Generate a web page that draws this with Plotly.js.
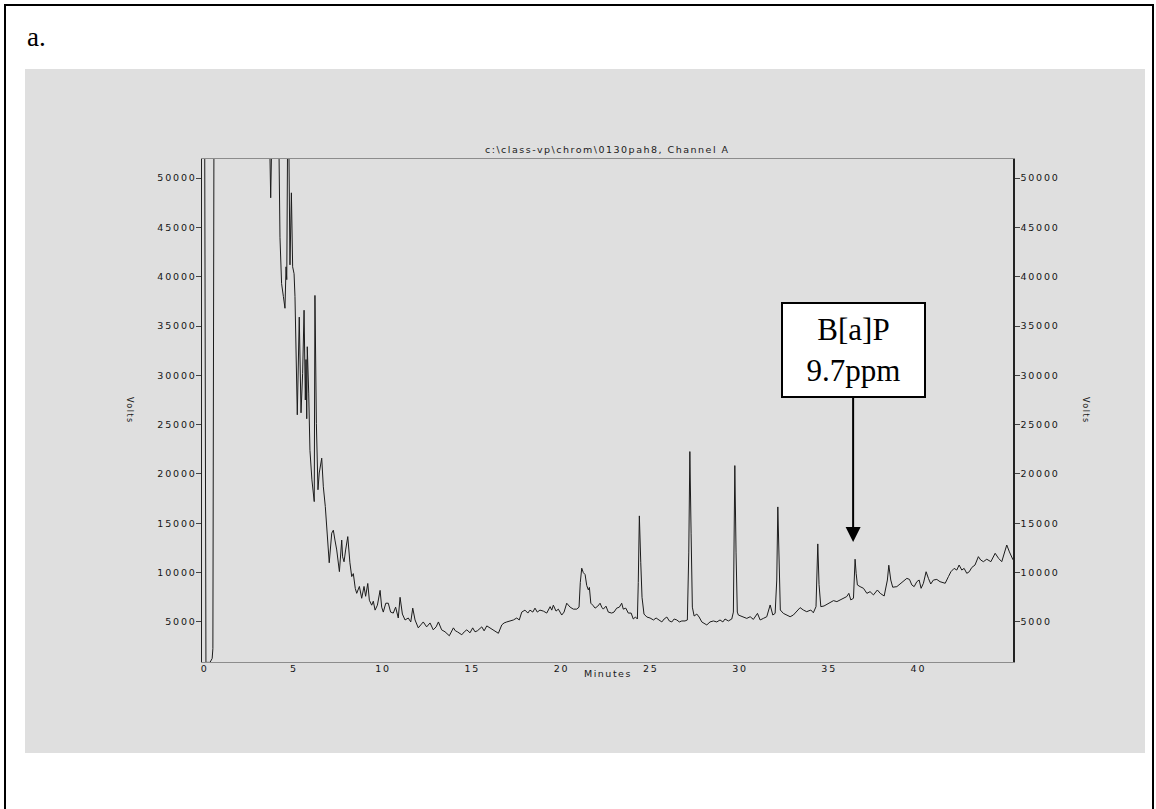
<!DOCTYPE html>
<html>
<head>
<meta charset="utf-8">
<script src="https://cdn.plot.ly/plotly-3.0.1.min.js"></script>
<style>
  html, body { margin: 0; padding: 0; background: #ffffff; width: 1156px; height: 809px; overflow: hidden; }
  #frame { position: absolute; left: 4px; top: 4px; width: 1146px; height: 820px; border: 2px solid #000; }
  #panel { position: absolute; left: 25px; top: 69px; width: 1120px; height: 684px; background: #dfdfdf; }
  #chart { position: absolute; left: 0; top: 0; width: 1156px; height: 809px; }
  /* wide, spaced instrument-style lettering for ticks and small captions */
  .xtick text, .ytick text, .y2tick text { letter-spacing: 1.8px; }
  text.annotation-text[style*="DejaVu"] { letter-spacing: 1.5px; }
</style>
</head>
<body>
<div id="frame"></div>
<div id="panel"></div>
<div id="chart"></div>
<script>
// Retention time (minutes)
const minutes = [
  0.00, 0.07, 0.30, 0.42, 0.46, 0.52,
  3.63, 3.70, 3.77, 4.15, 4.22, 4.31, 4.41, 4.50, 4.56, 4.60, 4.65, 4.71, 4.78, 4.86,
  4.93, 5.01, 5.06, 5.12, 5.19, 5.30, 5.40, 5.49, 5.57, 5.64, 5.68, 5.72, 5.75, 5.83,
  5.90, 6.01, 6.09, 6.14, 6.18, 6.26, 6.35, 6.42, 6.56, 6.65, 6.76, 6.87, 6.98, 7.12,
  7.21, 7.30, 7.40, 7.55, 7.68, 7.73, 7.81, 7.90, 8.02, 8.14, 8.24, 8.33, 8.44, 8.52,
  8.67, 8.80, 8.93, 9.02, 9.14, 9.23, 9.36, 9.45, 9.55, 9.68, 9.83, 9.92, 10.01, 10.15,
  10.29, 10.42, 10.57, 10.70, 10.85, 10.95, 11.08, 11.23, 11.41, 11.55, 11.66, 11.79,
  11.97, 12.11, 12.25, 12.44, 12.63, 12.81, 12.97, 13.10, 13.28, 13.47, 13.71, 13.94,
  14.05, 14.16, 14.41, 14.55, 14.69, 14.87, 15.02, 15.15, 15.28, 15.53, 15.66, 15.81,
  15.99, 16.22, 16.46, 16.65, 16.78, 16.93, 17.11, 17.30, 17.49, 17.63, 17.77, 17.95,
  18.11, 18.23, 18.39, 18.51, 18.64, 18.79, 18.98, 19.17, 19.36, 19.45, 19.54, 19.69,
  19.82, 20.01, 20.14, 20.29, 20.48, 20.66, 20.85, 20.98, 21.05, 21.13, 21.22, 21.32,
  21.41, 21.50, 21.56, 21.64, 21.75, 21.88, 22.03, 22.16, 22.25, 22.34, 22.49, 22.62,
  22.81, 22.94, 23.09, 23.24, 23.37, 23.46, 23.60, 23.74, 23.90, 24.02, 24.14, 24.25,
  24.30, 24.36, 24.44, 24.51, 24.62, 24.78, 24.96, 25.15, 25.30, 25.43, 25.62, 25.75,
  25.90, 26.04, 26.18, 26.31, 26.46, 26.60, 26.74, 26.92, 27.05, 27.13, 27.19, 27.26,
  27.33, 27.43, 27.58, 27.71, 27.86, 28.04, 28.14, 28.32, 28.51, 28.70, 28.88, 29.04,
  29.16, 29.35, 29.54, 29.63, 29.71, 29.78, 29.85, 29.91, 30.19, 30.38, 30.57, 30.75,
  30.98, 31.13, 31.31, 31.50, 31.69, 31.84, 31.97, 32.06, 32.12, 32.19, 32.26, 32.43,
  32.62, 32.81, 32.99, 33.18, 33.37, 33.55, 33.74, 33.97, 34.11, 34.26, 34.36, 34.43,
  34.53, 34.71, 34.90, 35.09, 35.24, 35.43, 35.61, 35.80, 35.98, 36.10, 36.21, 36.36,
  36.45, 36.51, 36.58, 36.73, 36.92, 37.11, 37.29, 37.48, 37.70, 37.86, 38.08, 38.26,
  38.34, 38.45, 38.56, 38.79, 38.97, 39.16, 39.35, 39.50, 39.63, 39.76, 39.91, 40.04,
  40.15, 40.28, 40.43, 40.56, 40.69, 40.84, 41.03, 41.21, 41.50, 41.68, 41.82, 42.00,
  42.15, 42.28, 42.43, 42.56, 42.71, 42.85, 42.99, 43.17, 43.36, 43.49, 43.64, 43.83,
  44.06, 44.30, 44.49, 44.67, 44.95, 45.10, 45.23, 45.30
];

// Detector response (volts scale); early solvent front runs off the top of the scale
const volts = [
  55000, 900, 900, 1300, 2300, 55000,
  55000, 48000, 55000, 55000, 44000, 39300, 38000, 36800, 41000, 39700, 55000, 55000, 41200, 48500,
  41000, 40300, 38000, 33600, 26000, 35900, 26200, 30200, 36600, 27500, 31600, 25600, 32900, 28200,
  22400, 19400, 18000, 17200, 38100, 25100, 18400, 20100, 21600, 18700, 16700, 13300, 11000, 14000,
  14300, 13300, 12300, 10100, 13300, 11600, 11100, 12300, 13650, 11000, 9600, 9900, 8400, 7900,
  8600, 7400, 8600, 7600, 8900, 7200, 6700, 7100, 6200, 6700, 8200, 6500, 6000, 6900,
  6900, 6000, 5900, 6500, 5400, 7500, 5800, 5200, 5400, 5000, 6400, 5200,
  4400, 4700, 5000, 4500, 4900, 4200, 4500, 5000, 4200, 4000, 3600, 4400,
  4100, 4000, 3700, 4000, 4200, 3900, 4400, 4000, 4100, 4500, 4100, 4600,
  4400, 4200, 3850, 4700, 4900, 5000, 5100, 5200, 5400, 5200, 6000, 6200,
  5900, 6200, 6000, 6400, 6000, 6200, 6100, 5900, 6550, 6200, 6700, 6100,
  6300, 5700, 6000, 6900, 6500, 6300, 6300, 6500, 9000, 10450, 10000, 9800,
  8700, 8250, 8500, 6900, 6700, 6400, 6600, 6900, 6500, 6300, 6600, 6000,
  5900, 6000, 6400, 6500, 6900, 6300, 6400, 5900, 5900, 5300, 5500, 5300,
  9000, 15750, 11000, 7500, 5800, 5500, 5400, 5200, 5400, 5200, 5000, 5300,
  5500, 5100, 5000, 5300, 5200, 5000, 5100, 5100, 5200, 12000, 22270, 14000,
  6500, 5600, 5800, 5500, 5000, 4800, 4700, 5000, 5100, 5000, 5200, 5000,
  5300, 5100, 5300, 6000, 20850, 12000, 6000, 5700, 5530, 5360, 5530, 5260,
  5870, 5200, 5360, 5530, 6720, 5700, 5870, 9250, 16660, 11000, 6210, 5870,
  5700, 5530, 5700, 6040, 6450, 6210, 6040, 6210, 5930, 6550, 12910, 8800,
  6550, 6620, 6830, 6960, 7160, 7060, 7230, 7400, 7570, 7900, 7230, 7400,
  11360, 9930, 8750, 8580, 8410, 7900, 8070, 7740, 8240, 7900, 7630, 9250,
  10750, 9250, 8520, 8580, 8850, 9080, 9420, 9310, 8750, 8580, 9080, 9250,
  8410, 8920, 10090, 9420, 8850, 9250, 9310, 9080, 8920, 9590, 10090, 10430,
  10260, 10770, 10260, 10430, 9930, 10090, 10520, 10770, 11620, 11280, 11110, 11360,
  11110, 11960, 11450, 11110, 12800, 12100, 11460, 11300
];

// Axis ticks
const minuteTicks = [0, 5, 10, 15, 20, 25, 30, 35, 40];
const minuteLabels = ['0', '5', '10', '15', '20', '25', '30', '35', '40'];
const voltTicks = [5000, 10000, 15000, 20000, 25000, 30000, 35000, 40000, 45000, 50000];
const voltLabels = ['5000', '10000', '15000', '20000', '25000', '30000', '35000', '40000', '45000', '50000'];

// Labelled compound
const peakLabel = 'B[a]P<br>9.7ppm';
const peakTime = 36.34;
const peakArrowTip = 13100;

const runTitle = 'c:\\class-vp\\chrom\\0130pah8, Channel A';

const tickFont = { family: 'DejaVu Sans', size: 9.5, color: '#151515' };

const traces = [
  {
    x: minutes, y: volts, type: 'scatter', mode: 'lines',
    line: { color: '#1c1c1c', width: 1 },
    hoverinfo: 'skip', showlegend: false
  },
  {
    x: [null], y: [null], yaxis: 'y2', type: 'scatter', mode: 'lines',
    hoverinfo: 'skip', showlegend: false
  }
];

const layout = {
  width: 1156, height: 809,
  margin: { l: 202, r: 143, t: 159, b: 147, pad: 0 },
  paper_bgcolor: 'rgba(0,0,0,0)',
  plot_bgcolor: 'rgba(0,0,0,0)',
  showlegend: false,
  xaxis: {
    range: [-0.15, 45.3], tickvals: minuteTicks, ticktext: minuteLabels,
    ticks: '', showgrid: false, zeroline: false,
    showline: true, linecolor: '#8c8c8c', linewidth: 1, mirror: true,
    tickfont: tickFont, ticklabelstandoff: -2, fixedrange: true
  },
  yaxis: {
    range: [940, 51930], tickvals: voltTicks, ticktext: voltLabels,
    ticks: 'outside', ticklen: 5, tickwidth: 1, tickcolor: '#444444',
    showgrid: false, zeroline: false,
    showline: true, linecolor: '#222222', linewidth: 1.5,
    tickfont: tickFont, ticklabelstandoff: -3, fixedrange: true
  },
  yaxis2: {
    overlaying: 'y', side: 'right',
    range: [940, 51930], tickvals: voltTicks, ticktext: voltLabels,
    ticks: 'outside', ticklen: 5, tickwidth: 1, tickcolor: '#444444',
    showgrid: false, zeroline: false,
    showline: true, linecolor: '#222222', linewidth: 1.5,
    tickfont: tickFont, ticklabelstandoff: -1, fixedrange: true
  },
  annotations: [
    {
      text: 'a.', xref: 'paper', yref: 'paper', x: -0.2182, y: 1.2425,
      xanchor: 'left', yanchor: 'middle', showarrow: false,
      font: { family: 'Liberation Serif', size: 27, color: '#000000' }
    },
    {
      text: runTitle, xref: 'paper', yref: 'paper', x: 0.5, y: 1.0179,
      xanchor: 'center', yanchor: 'middle', showarrow: false,
      font: { family: 'DejaVu Sans', size: 9.5, color: '#1a1a1a' }
    },
    {
      text: 'Minutes', xref: 'paper', yref: 'paper', x: 0.5, y: -0.0219,
      xanchor: 'center', yanchor: 'middle', showarrow: false,
      font: { family: 'DejaVu Sans', size: 9.5, color: '#1a1a1a' }
    },
    {
      text: 'Volts', xref: 'paper', yref: 'paper', x: -0.09, y: 0.501,
      xanchor: 'center', yanchor: 'middle', showarrow: false, textangle: 90,
      font: { family: 'DejaVu Sans', size: 8, color: '#1a1a1a' }
    },
    {
      text: 'Volts', xref: 'paper', yref: 'paper', x: 1.0888, y: 0.501,
      xanchor: 'center', yanchor: 'middle', showarrow: false, textangle: 90,
      font: { family: 'DejaVu Sans', size: 8, color: '#1a1a1a' }
    },
    {
      text: peakLabel, xref: 'x', yref: 'y', x: peakTime, y: peakArrowTip,
      showarrow: true, ax: 0, ay: -192, axref: 'pixel', ayref: 'pixel',
      arrowhead: 2, arrowsize: 1.5, arrowwidth: 2, arrowcolor: '#000000', standoff: 0,
      width: 141, height: 92, borderpad: 0, borderwidth: 2,
      bordercolor: '#000000', bgcolor: '#ffffff', align: 'center', valign: 'middle',
      font: { family: 'Liberation Serif', size: 31, color: '#000000' }
    }
  ]
};

Plotly.newPlot('chart', traces, layout, { staticPlot: true, displayModeBar: false });
</script>
</body>
</html>
